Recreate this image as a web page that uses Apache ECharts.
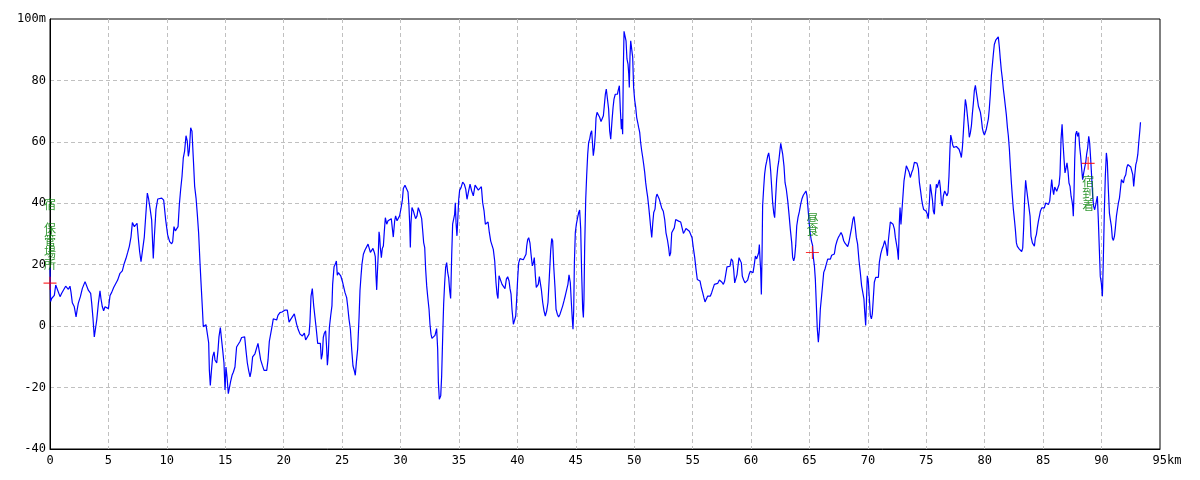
<!DOCTYPE html>
<html><head><meta charset="utf-8">
<script src="https://cdn.jsdelivr.net/npm/echarts@6/dist/echarts.min.js"></script>
<style>html,body{margin:0;padding:0;background:#fff}#c{width:1200px;height:480px}</style>
</head><body><div id="c"></div>
<script>
// elevation profile: [distance km, elevation m]
const elevationProfile = [
[0,19],[0.05,8],[0.14,9],[0.37,10],[0.49,13.4],[0.66,13],[0.86,9.6],[1.0,10.7],[1.14,11],[1.34,13],[1.46,13],[1.57,12],[1.71,13],[1.8,11],[1.91,7.6],[2.08,6.3],[2.23,3],[2.31,5],[2.42,7.4],[2.6,9.6],[2.77,12.3],[3.0,14.5],[3.14,14.5],[3.28,11.7],[3.48,10.7],[3.57,7.4],[3.68,2.5],[3.79,-3.5],[3.91,-3],[4.0,2],[4.14,7.4],[4.28,11.5],[4.36,9],[4.48,6.3],[4.59,5],[4.71,6.3],[4.88,5.7],[5.0,5.7],[5.14,10],[5.28,11],[5.45,12.6],[5.62,13],[5.79,15],[5.99,17.2],[6.19,18],[6.36,20.5],[6.5,22],[6.65,24],[6.79,26],[6.93,29],[7.05,33.7],[7.22,32.4],[7.33,31.9],[7.45,33.5],[7.56,28.6],[7.67,24.3],[7.79,21],[7.96,21],[8.07,29],[8.19,35.7],[8.33,43.3],[8.44,41.4],[8.56,38.4],[8.7,34.6],[8.84,22],[8.93,29],[9.07,38],[9.22,41.4],[9.36,41],[9.56,41.7],[9.73,41],[9.9,34.6],[10.07,29.7],[10.24,27.5],[10.41,26.8],
[10.5,27.5],[10.61,32.4],[10.73,31],[10.84,30.5],[10.96,32.4],[11.07,39.5],[11.18,44.4],[11.3,48.8],[11.41,54.8],[11.52,57],[11.64,62],[11.75,60.2],[11.84,55.3],[11.92,57],[12.04,64.6],[12.15,63.5],[12.27,54.3],[12.38,45.5],[12.5,41.7],[12.61,36.3],[12.72,30.3],[12.84,20.5],[12.92,14.5],[13.04,6],[13.12,-0.2],[13.24,0],[13.35,0.5],[13.47,0],[13.58,-5.4],[13.64,-14.4],[13.72,-19.3],[13.81,-14.8],[13.92,-10],[14.04,-8.4],[14.12,-11],[14.27,-12],[14.38,-7.8],[14.46,-3.5],[14.58,-0.5],[14.69,-4.6],[14.78,-7.8],[14.89,-12],[14.98,-20.8],[15.06,-13.3],[15.15,-16.5],[15.26,-22],[15.35,-22.5],[15.46,-18],[15.58,-16],[15.69,-15],[15.83,-13.3],[15.97,-6.8],[16.12,-7],[16.26,-5],[16.4,-3.7],[16.66,-3.5],[16.77,-7.8],[16.89,-12],[17.0,-14.4],[17.12,-16.5],[17.23,-14.4],[17.34,-10],[17.54,-9],[17.69,-8.4],[17.8,-5.6],[17.92,-8.4],[18.03,-11],[18.17,-12.7],[18.32,-14.4],[18.55,-14.4],[18.66,-11],[18.77,-5],[18.89,-4.5],[19.03,0.5],[19.11,2.4],[19.26,3],[19.4,2],[19.51,3.5],[19.68,4.4],[19.86,4.6],[20.09,5.2],[20.31,5.2],[20.46,1.3],[20.6,2.2],[20.77,2],[20.91,4],
[21.11,0.6],[21.25,-1.2],[21.4,-2.6],[21.6,-3.2],[21.77,-2.3],[21.88,-4.5],[22.05,-4.3],[22.17,-2.6],[22.25,1.4],[22.34,9.8],[22.45,12.2],[22.57,6.6],[22.68,2.8],[22.79,-1],[22.91,-5.6],[23.02,-5.9],[23.14,-5.6],[23.22,-10.8],[23.31,-9.1],[23.39,-3.7],[23.48,-2.3],[23.59,-1.5],[23.68,-7.3],[23.74,-12.7],[23.82,-9.1],[23.91,-0.5],[24.02,3.3],[24.13,6.6],[24.19,13.6],[24.31,19.3],[24.42,20.2],[24.51,21.2],[24.59,16.6],[24.68,17.4],[24.79,18],[24.88,16.4],[25.05,14.2],[25.16,14.4],[25.25,10.9],[25.39,9.3],[25.48,6.4],[25.59,2.3],[25.71,-1],[25.82,-7.5],[25.93,-12.9],[26.05,-14.6],[26.13,-16],[26.22,-11.8],[26.33,-7.5],[26.45,2.8],[26.53,11.5],[26.62,16.4],[26.7,20.2],[26.82,23.4],[26.96,24.8],[27.1,25.3],[27.22,26.7],[27.3,26.7],[27.42,24],[27.53,24.5],[27.64,25.3],[27.76,24],[27.84,22.6],[27.9,16.4],[27.96,11.8],[28.01,16.6],[28.1,24],[28.16,30.7],[28.21,29.4],[28.27,25.6],[28.36,22.3],[28.44,25.3],[28.53,26.1],[28.61,30.7],[28.7,35.3],[28.82,33.2],[28.93,34.3],[29.04,34.3],[29.21,35],[29.3,31.8],[29.38,29],[29.5,34.3],[29.58,35.9],[29.7,34.3],[29.81,34.8],[29.92,35.9],[30.04,38.3],[30.16,41.1],[30.24,44.8],[30.38,45.9],[30.55,46.1],[30.64,43.7],[30.72,39.1],[30.78,33.7],[30.84,25.6],[30.89,33.2],[30.98,38.6],[31.1,37.5],[31.18,36.4],[31.29,35],[31.41,35.9],[31.52,38.6],
[31.67,37],[31.81,35],[31.9,31],[31.98,27.2],[32.07,25.6],[32.15,18.5],[32.24,13.1],[32.32,9.8],[32.44,5.5],[32.52,0.6],[32.61,-2.6],[32.69,-4],[32.81,-3.4],[32.95,-3],[33.09,-0.8],[33.18,-7.5],[33.24,-18.4],[33.32,-23.8],[33.44,-22.7],[33.52,-16.2],[33.61,-3.2],[33.69,7.1],[33.78,14.2],[33.86,19.1],[33.95,20.7],[34.04,17.4],[34.12,15.8],[34.21,11.5],[34.29,9],[34.38,23.1],[34.46,33.2],[34.55,32.6],[34.63,36.4],[34.69,40.2],[34.75,33.7],[34.83,29.4],[34.89,33.9],[34.98,41.3],[35.06,44.3],[35.18,45.1],[35.32,46.9],[35.46,46.2],[35.58,44.6],[35.69,41.3],[35.8,43.5],[35.95,46.2],[36.09,44],[36.23,42.4],[36.38,45.9],[36.52,46.2],[36.66,44.3],[36.81,44.6],[36.92,45.4],[37.03,40.2],[37.15,37.5],[37.26,33.2],[37.37,32.6],[37.49,33.9],[37.6,30.5],[37.72,27.7],[37.83,27.2],[37.94,25],[38.06,21.2],[38.17,14.2],[38.26,10.4],[38.34,9],[38.43,16.4],[38.57,15.8],[38.69,13.6],[38.8,13.1],[38.94,12.2],[39.06,15.3],[39.17,16.1],[39.29,14.7],[39.37,12.2],[39.46,10.4],[39.54,5.5],[39.66,0.6],[39.77,1],[39.86,3.3],[39.94,8.8],[40.03,15.8],[40.11,20.5],[40.22,22],[40.37,21.8],[40.51,21.6],[40.66,21.6],[40.74,23.4],[40.8,26.1],[40.88,28.1],[40.97,28.8],[41.08,27],[41.17,23.4],[41.28,19.6],[41.37,20.7],[41.45,22.3],[41.54,16.4],[41.62,12.6],[41.71,12],[41.79,13.6],[41.88,16.1],
[41.94,16],[42.05,12],[42.17,7.7],[42.28,5],[42.39,3.3],[42.51,5],[42.62,7.7],[42.74,16.4],[42.85,24.5],[42.94,28.5],[43.02,27.8],[43.11,19.6],[43.22,12.6],[43.31,5.5],[43.42,3.9],[43.53,3],[43.65,3.9],[43.76,3.9],[43.88,6.6],[43.99,8.2],[44.1,9.9],[44.22,10.4],[44.33,13.7],[44.42,16.7],[44.53,14.2],[44.62,7.7],[44.7,2.3],[44.76,-1],[44.82,5],[44.88,20.7],[44.96,30.5],[45.05,33.2],[45.16,35.4],[45.25,37],[45.33,37.8],[45.42,31.6],[45.5,17.5],[45.59,5.5],[45.65,2.8],[45.7,8.8],[45.76,25.6],[45.85,41.3],[45.93,48.9],[46.02,56],[46.1,59.8],[46.19,60.9],[46.27,62.7],[46.36,63.6],[46.42,60.1],[46.5,55.5],[46.59,58.2],[46.67,62.5],[46.73,67.7],[46.82,69.6],[46.93,68.8],[47.04,68],[47.16,66.6],[47.27,66],[47.36,68.5],[47.44,71.7],[47.53,75.5],[47.61,77.2],[47.73,77.2],[47.81,70.7],[47.9,63.6],[47.99,60.9],[48.1,66.9],[48.19,71.2],[48.27,73.9],[48.38,75.5],[48.47,76.1],[48.56,75.5],[48.64,76.9],[48.73,78.3],[48.81,70.7],[48.9,64.1],[48.96,67.4],[49.01,62.5],[49.07,84.2],[49.13,96],[49.21,94.5],[49.3,92.9],[49.38,87],[49.47,85.3],[49.53,82.3],[49.58,77.7],[49.64,88],[49.7,92.9],[49.78,92.4],[49.87,87.5],[49.95,77.7],[50.04,73.6],[50.13,71.2],[50.21,68],[50.3,66.3],[50.38,64.7],[50.47,63.1],[50.55,59.8],[50.64,57.1],[50.73,54.9],[50.81,52.7],[50.9,50],[50.98,46.8],[51.07,44.1],[51.15,42.1],[51.24,38.9],[51.33,35.4],[51.41,32.1],[51.5,28.9],[51.58,33.2],[51.67,37],[51.78,38.1],[51.87,41.9],[51.95,43],[52.04,42.8],[52.15,41.3],
[52.21,41.2],[52.35,38.5],[52.49,37.4],[52.61,34.7],[52.72,30.4],[52.84,28.2],[52.95,25.5],[53.03,22.8],[53.12,23.9],[53.21,30.4],[53.32,29.8],[53.43,32],[53.55,34.7],[53.69,34.9],[53.8,34.2],[53.98,33.9],[54.12,33.9],[54.21,30.2],[54.32,30.9],[54.43,31.8],[54.58,32],[54.72,30.9],[54.83,30.4],[54.95,28.8],[55.06,25.5],[55.18,22.3],[55.29,18.5],[55.4,15.2],[55.52,14.7],[55.63,14.7],[55.75,12.5],[55.86,10.9],[55.97,9.2],[56.06,7.9],[56.17,8.2],[56.29,9.8],[56.4,9.2],[56.52,9.8],[56.63,10.9],[56.74,12.2],[56.86,13.6],[57.0,13.9],[57.14,13.9],[57.29,15],[57.4,15.2],[57.51,14.3],[57.63,13.6],[57.74,14.7],[57.83,16.8],[57.94,19.3],[58.09,19.5],[58.2,19.5],[58.31,21.9],[58.43,21.2],[58.51,18.5],[58.6,14.1],[58.68,14.7],[58.8,16.8],[58.88,19.5],[58.97,22.3],[59.08,22.8],[59.17,20.6],[59.25,16.3],[59.37,15],[59.48,14.1],[59.6,14.7],[59.71,15],[59.83,16.8],[59.94,17.9],[60.05,17.4],[60.17,17.4],[60.28,20.1],[60.37,22.8],[60.48,21.9],[60.57,21.4],[60.65,23.9],[60.71,26.6],[60.77,21.7],[60.82,18.5],[60.88,10.3],[60.94,22.8],[60.99,39.1],[61.08,45],[61.16,49.4],[61.25,52.1],[61.34,53.7],[61.42,55.3],[61.51,56.4],[61.59,54.3],[61.68,50.5],[61.77,45],[61.85,40.2],[61.94,36.9],[62.02,35.3],[62.11,42.3],[62.19,47.7],[62.28,51.5],[62.37,53.7],[62.45,56.4],
[62.54,59.5],[62.59,59.7],[62.71,55.9],[62.82,52.1],[62.91,46.7],[63.02,44.5],[63.14,40.8],[63.25,36.4],[63.36,31.6],[63.48,27.2],[63.56,22.4],[63.65,21.3],[63.73,22.4],[63.82,26.2],[63.91,32.6],[64.02,35.4],[64.13,37.2],[64.25,39.7],[64.36,41.5],[64.47,42.6],[64.59,43.2],[64.7,44],[64.79,42.4],[64.88,38.1],[64.96,34.3],[65.05,30.5],[65.16,27.8],[65.27,26.2],[65.33,22.4],[65.42,19.7],[65.5,15.4],[65.59,6.7],[65.67,-0.9],[65.76,-5.2],[65.85,-0.9],[65.93,5.6],[66.04,9.9],[66.13,13.7],[66.22,17.5],[66.33,18.6],[66.44,20.2],[66.56,21.8],[66.67,21.3],[66.79,21.8],[66.9,23.1],[67.01,22.9],[67.13,23.5],[67.24,26.2],[67.36,27.8],[67.47,28.9],[67.58,29.6],[67.7,30.5],[67.81,29.6],[67.93,27.8],[68.04,27],[68.15,26.4],[68.27,25.9],[68.38,27.4],[68.5,29.9],[68.61,32.1],[68.72,34.8],[68.81,35.7],[68.89,33.2],[69.01,28.9],[69.12,26.7],[69.24,21.3],[69.35,17.5],[69.46,13.2],[69.58,12.6],[69.66,8.9],[69.72,5.1],[69.81,0.2],[69.87,7.2],[69.95,16.4],[70.04,14.3],[70.12,9.4],[70.21,3.5],[70.3,2.4],[70.38,4],[70.47,9.4],[70.55,14.3],[70.67,15.9],[70.78,16.4],[70.9,15.9],[70.98,20.8],[71.1,23.5],[71.21,25.1],[71.32,26.2],[71.44,27.8],[71.55,26.2],[71.67,22.9],[71.75,27.8],[71.84,31],[71.92,33.9],[72.04,33.5],[72.15,33.2],[72.27,31.6],[72.35,28.9],[72.44,28.3],[72.52,25.1],[72.61,21.6],[72.69,33.7],
[72.75,38.6],[72.83,33.1],[72.92,38],[73.01,42.9],[73.09,47.3],[73.21,47.8],[73.29,52.2],[73.41,51.6],[73.52,50.2],[73.63,48.4],[73.75,50],[73.86,51.1],[73.98,53.3],[74.09,53.8],[74.2,53.1],[74.32,51.3],[74.41,46.7],[74.52,43.7],[74.6,41.3],[74.69,39.3],[74.77,38],[74.89,38.6],[74.97,37.5],[75.09,36.4],[75.17,35],[75.26,40.2],[75.34,46.2],[75.43,45.6],[75.52,41.3],[75.6,37.5],[75.69,36.4],[75.77,42.4],[75.86,46.2],[75.94,45.1],[76.03,46.5],[76.12,47.6],[76.2,45.1],[76.29,40.2],[76.37,39.1],[76.46,42.4],[76.57,44],[76.69,44],[76.77,42.4],[76.86,43.5],[76.94,48.9],[77.03,58.2],[77.09,62.2],[77.17,60.9],[77.26,59],[77.34,58.2],[77.46,58.7],[77.57,58.5],[77.68,58.7],[77.8,57.6],[77.91,56.3],[78.0,54.9],[78.09,58.2],[78.17,63.1],[78.26,69.1],[78.34,73.8],[78.43,71.8],[78.51,68.8],[78.6,65.3],[78.68,61.5],[78.77,62.9],[78.86,65.3],[78.94,69.1],[79.03,72.7],[79.11,76.7],[79.2,78.4],[79.28,76.2],[79.37,74],[79.46,71.6],[79.54,70.7],[79.63,69.6],[79.71,67.5],[79.8,64.4],[79.88,63.1],[79.97,62.2],[80.05,63.1],[80.14,64.2],[80.22,64.7],[80.31,67.5],[80.39,70.7],[80.48,75.6],[80.57,81.6],[80.65,84.9],[80.74,88.7],[80.82,91.7],[80.94,93.1],[81.05,93.6],[81.16,94.2],[81.25,90.9],[81.33,87.1],[81.42,83.3],[81.51,80.5],[81.59,77.3],[81.68,74.5],[81.76,71.8],[81.85,68.8],[81.94,64.7],[82.02,62],[82.11,57.6],[82.19,52.2],[82.28,46.7],[82.36,42.4],[82.45,38],[82.54,34.7],[82.62,31.5],[82.71,27.1],[82.79,26],[82.88,25.5],[82.96,25.1],
[83.05,24.9],[83.16,24.3],[83.25,25.4],[83.33,32],[83.42,41.7],[83.5,47.5],[83.59,44.5],[83.68,41.7],[83.79,41.2],[83.88,35.8],[83.96,29.2],[84.08,27.1],[84.16,26.5],[84.25,26],[84.33,28.7],[84.42,29.8],[84.5,32],[84.59,34.1],[84.68,35.8],[84.76,37.4],[84.88,38.5],[84.99,38.8],[85.1,38.5],[85.22,40.1],[85.33,40.3],[85.45,39.6],[85.56,40.7],[85.64,43.9],[85.73,47.7],[85.82,44.5],[85.9,42.8],[85.99,45.3],[86.07,45.8],[86.16,43.9],[86.27,43.4],[86.36,46.1],[86.44,49.3],[86.53,60.8],[86.62,65.7],[86.7,59.7],[86.79,54.2],[86.87,49.9],[86.96,51.5],[87.04,53.2],[87.13,50.4],[87.21,46.6],[87.3,45.5],[87.39,42.3],[87.47,40.7],[87.53,39],[87.58,35.8],[87.64,43.4],[87.7,54.2],[87.78,62.4],[87.87,63.5],[87.95,61.8],[88.04,63],[88.12,58.6],[88.21,55.3],[88.3,51],[88.38,47.7],[88.47,49.9],[88.55,51.5],[88.64,53.2],[88.72,55.9],[88.81,58],[88.9,61.8],[88.98,59.7],[89.07,54.2],[89.15,48.8],[89.24,42.3],[89.32,39],[89.41,37.9],[89.5,39.6],[89.58,41.2],[89.64,42.3],[89.72,34.7],[89.81,24.9],[89.89,16.2],[89.98,14],[90.07,9.7],[90.15,21.6],[90.24,37.9],[90.32,48.8],[90.41,56.4],[90.49,53.7],[90.58,44.5],[90.67,36.8],[90.75,34.7],[90.84,32.5],[90.92,28.7],[91.01,27.9],[91.1,29.2],[91.18,32],[91.27,35.8],[91.35,37.9],[91.44,40.1],[91.53,41.7],[91.61,44.5],[91.7,47.7],[91.78,48.3],[91.87,46.6],[91.95,48.3],[92.07,49.3],[92.15,51.5],[92.24,52.6],[92.33,53.2],[92.41,52.6],[92.5,51.8],[92.58,51.5],[92.67,49.3],[92.75,45.5],[92.84,49.3],[92.93,52.6],[93.01,53.7],[93.1,55.9],[93.18,59.7],[93.27,63.5],[93.33,66.4]
];

// waypoints
const waypointNames = ['宿 保管場所', '昼食', '宿到着'];
const waypointKm = [0, 65.25, 88.85];
const waypointElev = [14, 24, 53];

// axis ticks
const yTicks = [-40, -20, 0, 20, 40, 60, 80, 100];
const xTicks = [0, 5, 10, 15, 20, 25, 30, 35, 40, 45, 50, 55, 60, 65, 70, 75, 80, 85, 90, 95];

const labelOffsets = [[0, -49], [0, -28], [0, 30]];
const plusPath = 'path://M0,5.5H12V6.5H0Z M5.5,0H6.5V12H5.5Z';

const chart = echarts.init(document.getElementById('c'), null, {renderer: 'canvas'});
const axisFont = {fontFamily: 'DejaVu Sans Mono', fontSize: 12, color: '#000'};

chart.setOption({
  animation: false,
  backgroundColor: '#fff',
  grid: {left: 50, right: 40, top: 19, bottom: 31, show: true, borderColor: '#000', borderWidth: 1, backgroundColor: 'transparent'},
  xAxis: {
    type: 'value', min: xTicks[0], max: xTicks[xTicks.length - 1], interval: 5,
    axisLine: {show: true, onZero: false, lineStyle: {color: '#000', width: 1}},
    axisTick: {show: false},
    splitLine: {show: true, showMinLine: false, showMaxLine: false, lineStyle: {color: '#c0c0c0', type: [4, 3], width: 1}},
    axisLabel: Object.assign({}, axisFont, {
      margin: 6,
      formatter: v => v === xTicks[xTicks.length - 1] ? '{u|' + v + 'km}' : String(v),
      rich: {u: Object.assign({}, axisFont, {padding: [0, 0, 0, 14]})}
    })
  },
  yAxis: {
    type: 'value', min: yTicks[0], max: yTicks[yTicks.length - 1], interval: 20,
    axisLine: {show: true, onZero: false, lineStyle: {color: '#000', width: 1}},
    axisTick: {show: false},
    splitLine: {show: true, showMinLine: false, showMaxLine: false, lineStyle: {color: '#c0c0c0', type: [4, 3], width: 1}},
    axisLabel: Object.assign({}, axisFont, {
      margin: 4,
      formatter: v => v === yTicks[yTicks.length - 1] ? v + 'm' : String(v)
    })
  },
  series: [
    {
      type: 'line', data: elevationProfile, showSymbol: false, symbol: 'none',
      lineStyle: {color: '#0000ff', width: 1.2}, z: 3, silent: true
    },
    {
      type: 'scatter', z: 5, silent: true,
      symbol: plusPath, symbolSize: 13, symbolKeepAspect: true,
      itemStyle: {color: '#ff0000'},
      data: waypointNames.map((n, i) => ({
        name: n, value: [waypointKm[i], waypointElev[i]],
        label: {offset: labelOffsets[i]}
      })),
      label: {
        show: true, position: 'inside', color: '#008000',
        fontFamily: 'Noto Sans CJK JP', fontSize: 12, lineHeight: 12,
        formatter: p => p.name.split('').join('\n')
      }
    }
  ]
});
</script></body></html>
